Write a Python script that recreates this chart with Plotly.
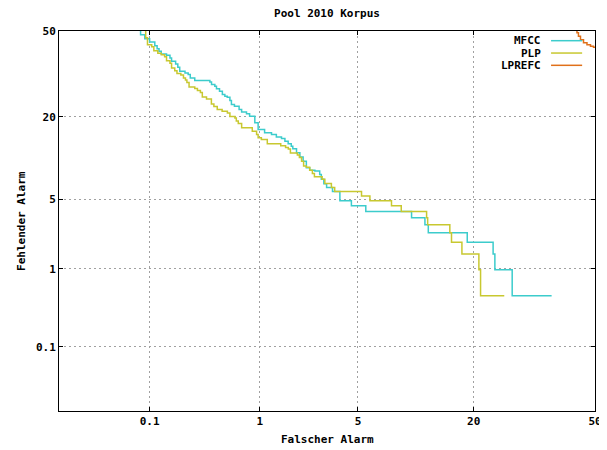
from statistics import NormalDist
import plotly.graph_objects as go

# DET curves (values in percent): false alarm rate vs. miss rate
mfcc_fa = [0.0695, 0.0808, 0.0892, 0.100, 0.1128, 0.119, 0.1243, 0.1308, 0.1475, 0.1594,
           0.1652, 0.1808, 0.1898, 0.198, 0.2222, 0.2381, 0.2491, 0.2742, 0.3768, 0.3898,
           0.4172, 0.4315, 0.4589, 0.4862, 0.511, 0.5358, 0.5652, 0.5823, 0.6179, 0.6767,
           0.7106, 0.780, 0.8276, 0.913, 0.971, 1.094, 1.24, 1.352, 1.481, 1.572,
           1.663, 1.754, 1.801, 1.918, 2.03, 2.143, 2.26, 2.388, 2.597, 2.806,
           2.879, 2.995, 3.128, 3.427, 3.835, 4.549, 5.588, 10.155, 11.9, 12.37,
           18.77, 23.98, 24.36, 28.28, 38.17]
mfcc_miss = [51.3, 48.56, 47.0, 45.72, 44.29, 43.14, 42.1, 41.12, 40.59, 39.60,
             38.32, 37.36, 36.12, 34.65, 34.08, 33.48, 32.32, 31.37, 30.91, 30.0,
             29.43, 28.56, 27.75, 26.69, 26.16, 25.84, 24.8, 23.58, 23.08, 22.11,
             21.43, 20.87, 20.22, 18.43, 16.76, 15.94, 15.55, 14.95, 14.65, 14.04,
             13.47, 12.99, 12.46, 11.66, 10.86, 10.14, 9.05, 8.63, 8.52, 8.01,
             7.33, 6.74, 6.28, 5.80, 4.83, 4.35, 3.86, 3.38, 2.90, 2.42,
             1.93, 1.45, 0.97, 0.48, 0.48]

plp_fa = [0.0881, 0.0912, 0.0951, 0.105, 0.1103, 0.1209, 0.1308, 0.1412, 0.1475, 0.1594,
          0.1652, 0.1773, 0.1863, 0.2029, 0.2149, 0.2245, 0.2316, 0.2427, 0.2742, 0.2903,
          0.3092, 0.3219, 0.3514, 0.3887, 0.4092, 0.4383, 0.4837, 0.5376, 0.5652, 0.6236,
          0.641, 0.666, 0.7106, 0.8704, 0.9435, 0.971, 1.031, 1.149, 1.461, 1.590,
          1.667, 1.728, 1.945, 2.013, 2.088, 2.16, 2.26, 2.388, 2.495, 2.578,
          2.917, 3.043, 3.369, 3.544, 5.262, 5.917, 7.897, 8.941, 12.13, 12.28,
          15.69, 15.97, 17.79, 21.02, 21.36, 26.45]
plp_miss = [52.07, 47.39, 44.68, 43.91, 42.37, 41.42, 40.85, 40.09, 38.58, 37.65,
            35.82, 34.90, 33.83, 33.30, 32.32, 31.54, 30.67, 29.16, 28.66, 27.99,
            27.33, 25.90, 25.27, 23.73, 22.99, 22.11, 21.61, 21.14, 20.14, 19.73,
            18.92, 18.25, 17.18, 16.34, 15.55, 14.81, 14.43, 13.49, 13.07, 12.73,
            12.43, 11.62, 11.25, 10.80, 10.14, 9.33, 9.10, 8.63, 8.16, 7.67,
            7.33, 6.78, 6.28, 5.80, 5.31, 4.83, 4.35, 3.86, 3.38, 2.90,
            2.42, 1.93, 1.45, 0.97, 0.48, 0.48]

lprefc_fa = [44.47, 45.02, 45.43, 45.99, 46.82, 47.78, 48.75, 49.58, 50.28]
lprefc_miss = [51.29, 49.34, 47.97, 46.61, 45.45, 44.67, 44.09, 43.71, 43.52]

series_names = ["MFCC", "PLP", "LPREFC"]
series_colors = ["#3ccccc", "#c8c830", "#e0701a"]

tick_values = [0.1, 1, 5, 20, 50]
tick_labels = ["0.1", "1", "5", "20", "50"]
axis_min_pct = 0.01
axis_max_pct = 50

nd = NormalDist()


def probit(values):
    return [nd.inv_cdf(v / 100.0) for v in values]


FONT = "DejaVu Sans Mono"
PAGE_OFFSET = 8  # default body margin of the HTML page
FIG_W = 607 - PAGE_OFFSET
FIG_H = 450 - PAGE_OFFSET

fig = go.Figure()
series = [(mfcc_fa, mfcc_miss), (plp_fa, plp_miss), (lprefc_fa, lprefc_miss)]
for (fa, miss), name, color in zip(series, series_names, series_colors):
    fig.add_trace(go.Scatter(
        x=probit(fa), y=probit(miss), mode="lines", name=name,
        line=dict(color=color, width=1.5, shape="hv"),
        showlegend=False, hoverinfo="skip",
    ))

axis_common = dict(
    range=[nd.inv_cdf(axis_min_pct / 100.0), nd.inv_cdf(axis_max_pct / 100.0)],
    tickmode="array",
    tickvals=probit(tick_values),
    ticktext=tick_labels,
    automargin=False,
    showgrid=True,
    gridcolor="#a0a0a0",
    griddash="2px,3px",
    gridwidth=1,
    zeroline=False,
    showline=True,
    linecolor="black",
    linewidth=1,
    mirror="ticks",
    ticks="inside",
    ticklen=4,
    tickcolor="black",
    tickfont=dict(family=FONT, size=11, color="black", weight="bold"),
)

fig.update_xaxes(**axis_common)
fig.update_yaxes(**axis_common)

# Legend (gnuplot style: label, then line sample), inside top-right
legend_y = [0.9745, 0.942, 0.9097]
annotations = []
shapes = []
for name, color, ly in zip(series_names, series_colors, legend_y):
    annotations.append(dict(
        x=0.903, y=ly, xref="paper", yref="paper", text=name, showarrow=False,
        xanchor="right", yanchor="middle",
        font=dict(family=FONT, size=11, color="black", weight="bold"),
    ))
    shapes.append(dict(
        type="line", xref="paper", yref="paper", x0=0.918, x1=0.976, y0=ly, y1=ly,
        line=dict(color=color, width=1.5),
    ))

annotations.append(dict(
    x=0.5, y=-0.076, xref="paper", yref="paper", text="Falscher Alarm", showarrow=False,
    xanchor="center", yanchor="middle",
    font=dict(family=FONT, size=11, color="black", weight="bold"),
))
annotations.append(dict(
    x=-0.071, y=0.5, xref="paper", yref="paper", text="Fehlender Alarm", showarrow=False,
    xanchor="center", yanchor="middle", textangle=-90,
    font=dict(family=FONT, size=11, color="black", weight="bold"),
))

fig.update_layout(
    width=FIG_W, height=FIG_H,
    margin=dict(l=59 - PAGE_OFFSET, r=12, t=31 - PAGE_OFFSET, b=39, pad=0),
    paper_bgcolor="white", plot_bgcolor="white",
    title=dict(text="Pool 2010 Korpus", x=0.5, xref="paper", xanchor="center",
               y=1 - (13.5 - PAGE_OFFSET) / FIG_H, yref="container", yanchor="middle",
               font=dict(family=FONT, size=11, color="black", weight="bold")),
    annotations=annotations,
    shapes=shapes,
    showlegend=False,
)

fig.write_html("out.html", config={"displayModeBar": False})
